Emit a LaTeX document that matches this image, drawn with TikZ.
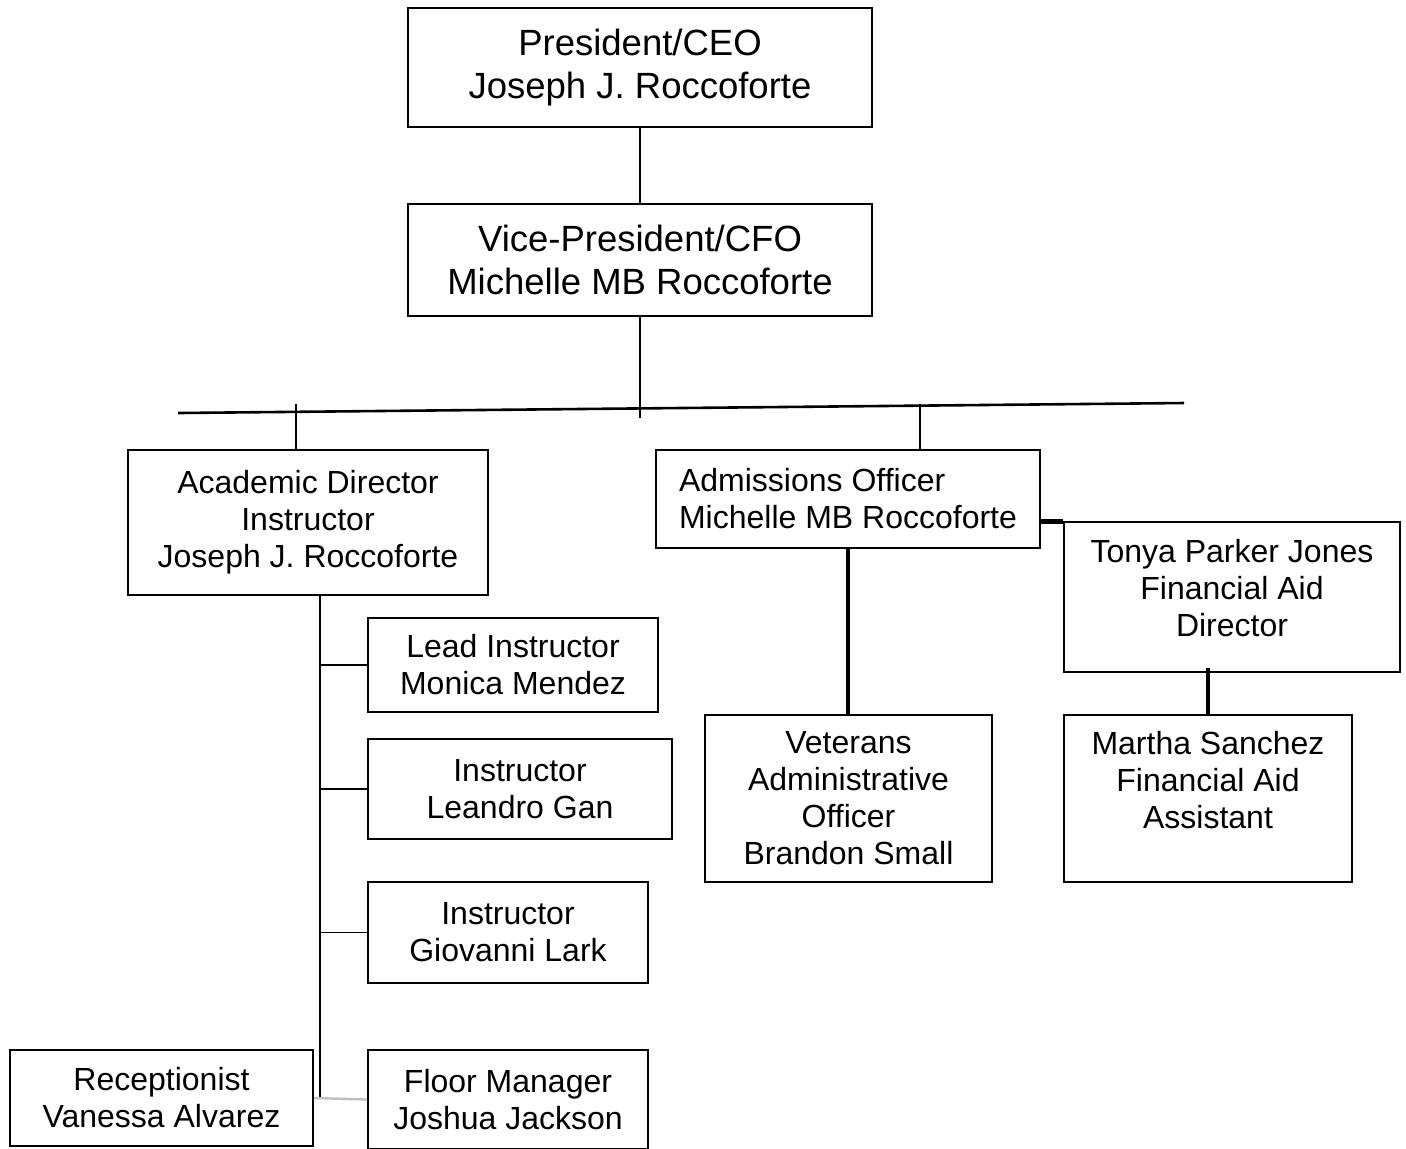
\documentclass[tikz,border=0pt]{standalone}
\usepackage{fontspec}
\setmainfont{Liberation Sans}
\usetikzlibrary{calc}
\tikzset{
  % plain box
  box/.style={
    draw=black,
    line width=0.9pt,
    inner sep=0pt,
    align=center,
    font=\fontsize{16}{18.5}\selectfont
  },
  % the two boxes at the top
  topbox/.style={box, font=\fontsize{18.25}{21.5}\selectfont},
  % thin connector
  link/.style={line width=0.8pt},
  % heavy connector
  heavylink/.style={line width=2.4pt},
  % the long cross bar
  bar/.style={line width=1.3pt},
  % pale connector at the bottom
  palelink/.style={line width=1.2pt, black!25},
}

\begin{document}
\begin{tikzpicture}[x=0.5pt, y=-0.5pt]
    \useasboundingbox (0,0) rectangle (1406,1148);

    % Top of the chart
    \node[topbox, minimum width=232pt, minimum height=59.5pt] (pres) at (640,67.5)
        {President/CEO\\Joseph J. Roccoforte};
    \node[topbox, minimum width=232pt, minimum height=56pt] (vp) at (640,260)
        {Vice-President/CFO\\Michelle MB Roccoforte};
    \draw[link] (pres.south) -- (vp.south |- pres.south) -- (vp.north);

    % Cross bar
    \coordinate (barL) at (178,413);
    \coordinate (barR) at (1184,403);
    \coordinate (vpend) at (640,418);
    \coordinate (tickA) at (296,404);
    \coordinate (tickB) at (920,404);
    \draw[bar] (barL) -- (barR);
    \draw[link] (vp.south) -- (vpend);

    % Academic side
    \node[box, minimum width=180pt, minimum height=72.5pt] (acad) at (308,522.5)
        {Academic Director\\Instructor\\Joseph J. Roccoforte};
    \node[box, minimum width=145pt, minimum height=47pt] (lead) at (513,665)
        {Lead Instructor\\Monica Mendez};
    \node[box, minimum width=152pt, minimum height=50pt] (instgan) at (520,789)
        {Instructor\\Leandro Gan};
    \node[box, minimum width=140pt, minimum height=50.5pt] (instlark) at (508,932.5)
        {Instructor\\Giovanni Lark};
    \node[box, minimum width=140pt, minimum height=49.5pt] (floor) at (508,1099.5)
        {Floor Manager\\Joshua Jackson};
    \node[box, minimum width=151.5pt, minimum height=48pt] (recep) at (161.5,1098)
        {Receptionist\\Vanessa Alvarez};

    \draw[link] (tickA) -- (tickA |- acad.north);
    \coordinate (spinetop) at ($(acad.south)+(12,0)$);
    \coordinate (spinebot) at (320,1098);
    \draw[link] (spinetop) -- (spinebot);
    \draw[link] (spinetop |- lead.west) -- (lead.west);
    \draw[link] (spinetop |- instgan.west) -- (instgan.west);
    \draw[link] (spinetop |- instlark.west) -- (instlark.west);
    \draw[palelink] (recep.east) -- (floor.west);

    % Admissions side
    \node[box, align=left, minimum width=192pt, minimum height=49pt] (adm) at (848,499)
        {Admissions Officer\\Michelle MB Roccoforte};
    \node[box, minimum width=168pt, minimum height=75pt] (tonya) at (1232,597)
        {Tonya Parker Jones\\Financial Aid\\Director\\[-9.5pt]\phantom{A}};
    \node[box, minimum width=143.5pt, minimum height=83.5pt] (vet) at (848.5,798.5)
        {Veterans\\Administrative\\Officer\\Brandon Small};
    \node[box, minimum width=144pt, minimum height=83.5pt] (martha) at (1208,798.5)
        {Martha Sanchez\\Financial Aid\\Assistant\\\phantom{A}};

    \draw[link] (tickB) -- (tickB |- adm.north);
    \draw[heavylink] (adm.south) -- (adm.south |- vet.north);
    \draw[heavylink] (adm.east |- tonya.north) -- (tonya.north west);
    \draw[line width=1.8pt] ($(martha.north |- tonya.south)+(0,-5)$) -- (martha.north);
\end{tikzpicture}
\end{document}
